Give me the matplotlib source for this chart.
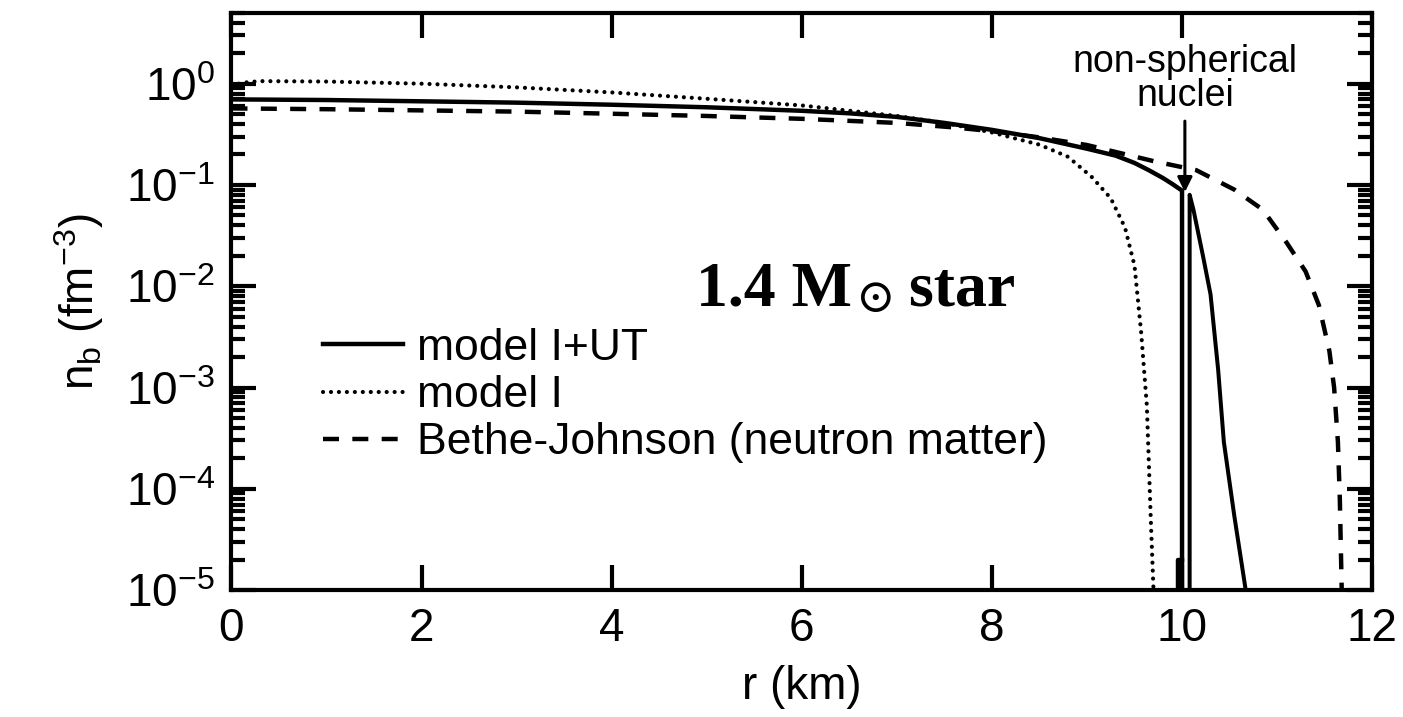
import matplotlib
matplotlib.use("Agg")
import matplotlib.pyplot as plt
import numpy as np
from matplotlib.ticker import LogLocator, NullFormatter
from matplotlib.transforms import offset_copy

plt.rcParams['font.family'] = ['Liberation Sans', 'DejaVu Sans']
plt.rcParams['mathtext.fontset'] = 'custom'
plt.rcParams['mathtext.rm'] = 'Liberation Sans'
plt.rcParams['mathtext.it'] = 'Liberation Sans:italic'
plt.rcParams['mathtext.bf'] = 'Liberation Sans:bold'

# model I+UT, inner part (up to the non-spherical nuclei region)
r_ut = [0, 1, 2, 3, 4, 5, 6, 6.5, 7, 7.5, 8, 8.5, 9, 9.3, 9.5, 9.65, 9.8,
        9.9, 10.0, 10.0]
n_ut = [0.70, 0.69, 0.67, 0.65, 0.62, 0.585, 0.54, 0.51, 0.47, 0.41, 0.35,
        0.29, 0.228, 0.195, 0.165, 0.14, 0.117, 0.102, 0.088, 1e-5]
# small step at the bottom of the gap
r_ut_step = [9.96, 9.96, 10.0]
n_ut_step = [1e-5, 2e-5, 2e-5]
# model I+UT, crust part
r_ut_out = [10.08, 10.08, 10.12, 10.22, 10.30, 10.38, 10.44, 10.55, 10.67]
n_ut_out = [1e-5, 0.08, 0.057, 0.02, 8.3e-3, 1.5e-3, 2.9e-4, 5.4e-5, 1e-5]

# model I
r_m1 = [0, 0.1, 0.3, 1, 2, 3, 4, 5, 6, 7, 7.5, 8, 8.5, 8.8, 9.05, 9.25,
        9.4, 9.5, 9.57, 9.63, 9.67, 9.70]
n_m1 = [0.93, 1.02, 1.06, 1.05, 1.0, 0.92, 0.82, 0.71, 0.61, 0.48, 0.41,
        0.33, 0.25, 0.19, 0.12, 0.074, 0.038, 0.016, 3.5e-3, 6.6e-4,
        5.4e-5, 1e-5]

# Bethe-Johnson (neutron matter)
r_bj = [0, 1, 2, 3, 4, 5, 6, 7, 7.6, 8, 8.5, 9, 9.7, 10.15, 10.55, 10.85,
        11.1, 11.3, 11.44, 11.55, 11.6, 11.64, 11.66, 11.68]
n_bj = [0.57, 0.56, 0.545, 0.53, 0.505, 0.48, 0.45, 0.41, 0.37, 0.34, 0.295,
        0.248, 0.172, 0.14, 0.09, 0.057, 0.027, 0.014, 6.5e-3, 2.3e-3, 1.0e-3,
        2.9e-4, 8e-5, 1e-5]

fig = plt.figure(figsize=(14.03, 7.17), dpi=100)
ax = fig.add_axes([0.165, 0.177, 0.813, 0.805])

lw = 3.2
ax.plot(r_ut, n_ut, color='k', lw=lw, solid_joinstyle='miter',
        label='model I+UT')
ax.plot(r_ut_step, n_ut_step, color='k', lw=lw)
ax.plot(r_ut_out, n_ut_out, color='k', lw=lw * 0.9)
ax.plot(r_m1, n_m1, color='k', lw=3.0, linestyle=(0, (0.01, 1.9)),
        dash_capstyle='round', label='model I')
ax.plot(r_bj, n_bj, color='k', lw=lw, linestyle=(0, (3.6, 3.0)),
        label='Bethe-Johnson (neutron matter)')

ax.set_yscale('log')
ax.set_xlim(0, 12)
ax.set_ylim(1e-5, 5)
ax.set_xticks(range(0, 13, 2))
ax.yaxis.set_major_locator(LogLocator(base=10, numticks=10))
ax.yaxis.set_minor_locator(LogLocator(base=10, subs=np.arange(2, 10), numticks=20))
ax.yaxis.set_minor_formatter(NullFormatter())

for s in ax.spines.values():
    s.set_linewidth(3)
ax.tick_params(which='both', direction='in', top=True, right=True,
               labelsize=33, width=3)
ax.tick_params(which='major', length=18, pad=12)
ax.tick_params(which='minor', length=10)
ax.tick_params(axis='x', which='minor', top=False, bottom=False)

ax.set_xlabel('r (km)', fontsize=33, labelpad=10)
ax.set_ylabel(r'n$_\mathrm{b}$ (fm$^{-3}$)', fontsize=33, labelpad=14)

# "1.4 M(sun) star" built from three pieces
serif = ['Liberation Serif', 'DejaVu Serif']
t1 = ax.text(4.89, 6.5e-3, '1.4 M', family=serif, fontweight='bold',
             fontsize=46, va='baseline', ha='left')
fig.canvas.draw()
w1 = t1.get_window_extent().width * 72 / fig.dpi
t2 = ax.text(4.89, 6.5e-3, '\u2299', family=['DejaVu Serif'],
             fontsize=34, va='baseline', ha='left',
             transform=offset_copy(ax.transData, fig=fig, x=w1 + 3, y=-5,
                                   units='points'))
fig.canvas.draw()
w2 = t2.get_window_extent().width * 72 / fig.dpi
ax.text(4.89, 6.5e-3, ' star', family=serif, fontweight='bold',
        fontsize=46, va='baseline', ha='left',
        transform=offset_copy(ax.transData, fig=fig, x=w1 + w2 + 1, y=0,
                              units='points'))

ax.annotate('non-spherical\nnuclei', xy=(10.03, 0.085), xytext=(10.03, 0.5),
            ha='center', va='bottom', fontsize=27, linespacing=0.95,
            arrowprops=dict(arrowstyle='-|>', color='k', lw=2.2,
                            mutation_scale=22, shrinkA=3, shrinkB=0))

leg = ax.legend(loc='upper left', bbox_to_anchor=(0.065, 0.485), frameon=False,
                fontsize=32, handlelength=1.8, handletextpad=0.3,
                labelspacing=0.14, borderaxespad=0)

fig.savefig('out.png', dpi=100)
